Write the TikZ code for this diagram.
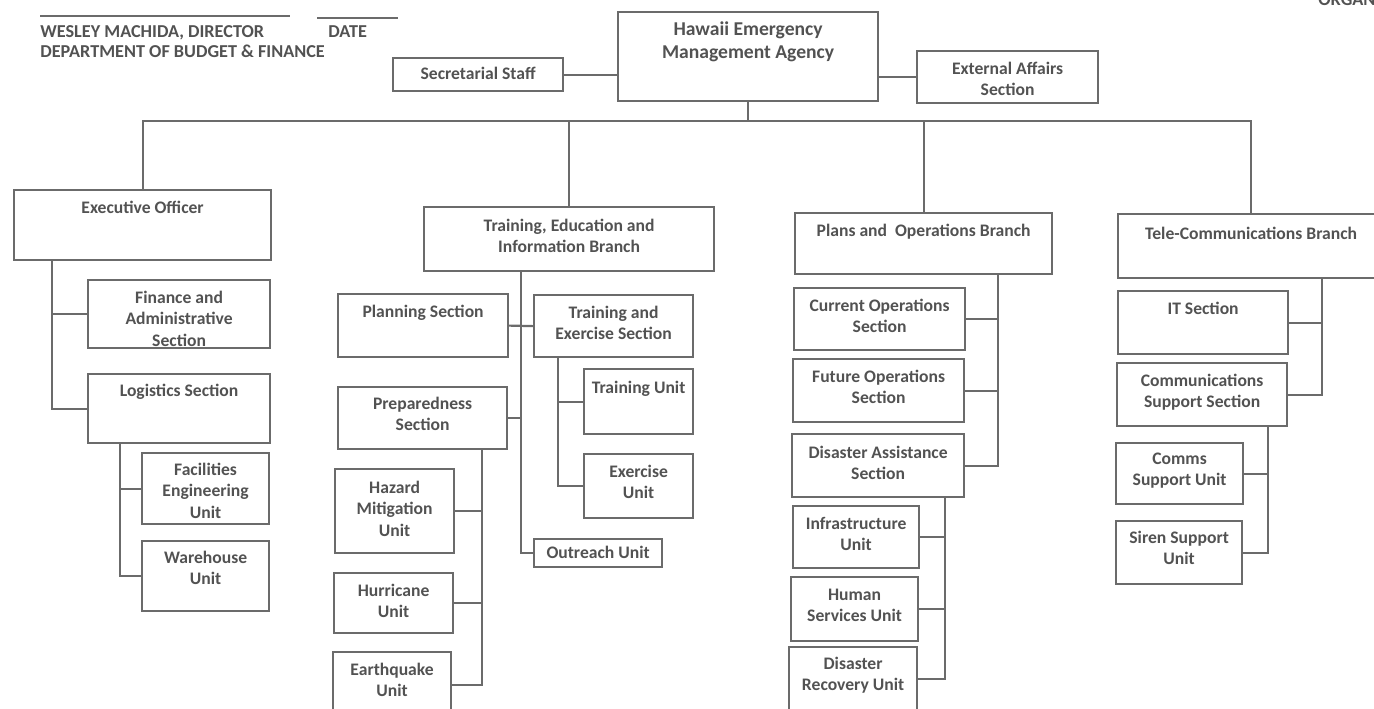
\documentclass[tikz,border=0pt]{standalone}
\usepackage{fontspec}
\setmainfont{Carlito}
\usetikzlibrary{calc}
\definecolor{linegray}{gray}{0.42}
\definecolor{inkgray}{gray}{0.32}
\newlength\px
\setlength\px{0.5pt}
% box text: [top pad]{width}{height}{text}, all in px
\newcommand\tb[4][8]{\parbox[t][#3\px][t]{#2\px}{\centering\vspace*{#1\px}\strut #4}}
\tikzset{
  unit/.style={draw=linegray, line width=1.1pt, inner sep=0pt, anchor=north west,
    text=inkgray, font=\fontsize{8.8}{10.8}\selectfont\bfseries},
  link/.style={draw=linegray, line width=1.1pt},
  hdr/.style={text=inkgray, inner sep=0pt, anchor=base west,
    font=\fontsize{9.1}{10}\selectfont\bfseries}
}
\begin{document}
\begin{tikzpicture}[x=0.5pt,y=-0.5pt]
\useasboundingbox (0,0) rectangle (1374,708);
\clip (0,0) rectangle (1374,708);
% signature block
\draw[linegray, line width=0.9pt] (40,16) -- (290,16);
\draw[linegray, line width=0.9pt] (317,18) -- (398,18);
\node[hdr] (director) at (40,37) {WESLEY MACHIDA, DIRECTOR};
\node[hdr] (date) at (328,37) {DATE};
\node[hdr] (dept) at (40,57) {DEPARTMENT OF BUDGET \& FINANCE};
\node[hdr] (orgtitle) at (1318,5) {ORGANIZATION CHART};
% top
\node[unit, font=\fontsize{9.8}{11.6}\selectfont\bfseries] (hema) at (617,11) {\tb[7]{260}{89}{Hawaii Emergency\\Management Agency}};
\node[unit] (sec) at (392,57) {\tb[6]{170}{33}{Secretarial Staff}};
\node[unit] (ext) at (916,50) {\tb{181}{52}{External Affairs\\Section}};
% branches
\node[unit] (exec) at (13,189) {\tb{257}{70}{Executive Officer}};
\node[unit] (teib) at (423,206) {\tb[9]{290}{64}{Training, Education and\\Information Branch}};
\node[unit] (plans) at (794,212) {\tb{257}{61}{Plans and \ Operations Branch}};
\node[unit] (tele) at (1117,213) {\tb[10]{266}{64}{Tele-Communications Branch}};
% executive officer
\node[unit] (fin) at (87,279) {\tb{182}{68}{Finance and\\Administrative\\Section}};
\node[unit] (log) at (87,373) {\tb[7]{182}{69}{Logistics Section}};
\node[unit] (fac) at (141,452) {\tb[7]{127}{71}{Facilities\\Engineering\\Unit}};
\node[unit] (ware) at (141,540) {\tb[7]{127}{70}{Warehouse\\Unit}};
% training, education and information
\node[unit] (plan) at (337,293) {\tb{170}{63}{Planning Section}};
\node[unit] (tes) at (533,294) {\tb{159}{62}{Training and\\Exercise Section}};
\node[unit] (prep) at (337,386) {\tb[7]{169}{62}{Preparedness\\Section}};
\node[unit] (trunit) at (583,368) {\tb[9]{109}{65}{Training Unit}};
\node[unit] (exunit) at (583,453) {\tb{109}{64}{Exercise\\Unit}};
\node[unit] (outreach) at (533,538) {\tb[4]{128}{28}{Outreach Unit}};
\node[unit] (hazard) at (334,468) {\tb[9]{119}{84}{Hazard\\Mitigation\\Unit}};
\node[unit] (hurr) at (333,572) {\tb{119}{60}{Hurricane\\Unit}};
\node[unit] (earth) at (332,651) {\tb{118}{66}{Earthquake\\Unit}};
% plans and operations
\node[unit] (curops) at (793,287) {\tb{171}{62}{Current Operations\\Section}};
\node[unit] (futops) at (792,358) {\tb{171}{63}{Future Operations\\Section}};
\node[unit] (disas) at (791,433) {\tb[9]{172}{63}{Disaster Assistance\\Section}};
\node[unit] (infra) at (792,505) {\tb{126}{62}{Infrastructure\\Unit}};
\node[unit] (human) at (790,576) {\tb{127}{64}{Human\\Services Unit}};
\node[unit] (disrec) at (788,646) {\tb[7]{128}{64}{Disaster\\Recovery Unit}};
% tele-communications
\node[unit] (itsec) at (1117,290) {\tb{170}{63}{IT Section}};
\node[unit] (css) at (1116,362) {\tb{170}{63}{Communications\\Support Section}};
\node[unit] (csu) at (1115,442) {\tb[6]{127}{61}{Comms\\Support Unit}};
\node[unit] (siren) at (1115,520) {\tb[7]{126}{63}{Siren Support\\Unit}};
% spines
\coordinate (bus) at (0,121);
\coordinate (execspine) at ($(exec.south west)+(39,0)$);
\coordinate (logspine) at ($(log.south west)+(33,0)$);
\coordinate (teibspine) at ($(teib.south west)+(98,0)$);
\coordinate (tesspine) at ($(tes.south west)+(25,0)$);
\coordinate (prepspine) at ($(prep.south west)+(145,0)$);
\coordinate (plansspine) at ($(plans.south west)+(204,0)$);
\coordinate (disasspine) at ($(disas.south west)+(154,0)$);
\coordinate (telespine) at ($(tele.south west)+(205,0)$);
\coordinate (cssspine) at ($(css.south west)+(152,0)$);
% connectors
\draw[link] (sec.east) -- (sec.east -| hema.west);
\draw[link] (ext.west) -- (ext.west -| hema.east);
\draw[link] (hema.south) -- (hema.south |- bus);
\draw[link] (exec.north) |- (hema.south |- bus) -| (tele.north);
\draw[link] (teib.north) -- (teib.north |- bus);
\draw[link] (plans.north) -- (plans.north |- bus);
\draw[link] (execspine) |- (log.west);
\draw[link] (fin.west) -- (fin.west -| execspine);
\draw[link] (logspine) |- (ware.west);
\draw[link] (fac.west) -- (fac.west -| logspine);
\draw[link] (teibspine) |- (outreach.west);
\draw[link] (plan.east) -- (tes.west);
\draw[link] (prep.east) -- (prep.east -| teibspine);
\draw[link] (tesspine) |- (exunit.west);
\draw[link] (trunit.west) -- (trunit.west -| tesspine);
\draw[link] (prepspine) |- (earth.east);
\draw[link] (hazard.east) -- (hazard.east -| prepspine);
\draw[link] (hurr.east) -- (hurr.east -| prepspine);
\draw[link] (plansspine) |- (disas.east);
\draw[link] (curops.east) -- (curops.east -| plansspine);
\draw[link] (futops.east) -- (futops.east -| plansspine);
\draw[link] (disasspine) |- (disrec.east);
\draw[link] (infra.east) -- (infra.east -| disasspine);
\draw[link] (human.east) -- (human.east -| disasspine);
\draw[link] (telespine) |- (css.east);
\draw[link] (itsec.east) -- (itsec.east -| telespine);
\draw[link] (cssspine) |- (siren.east);
\draw[link] (csu.east) -- (csu.east -| cssspine);
\end{tikzpicture}
\end{document}
